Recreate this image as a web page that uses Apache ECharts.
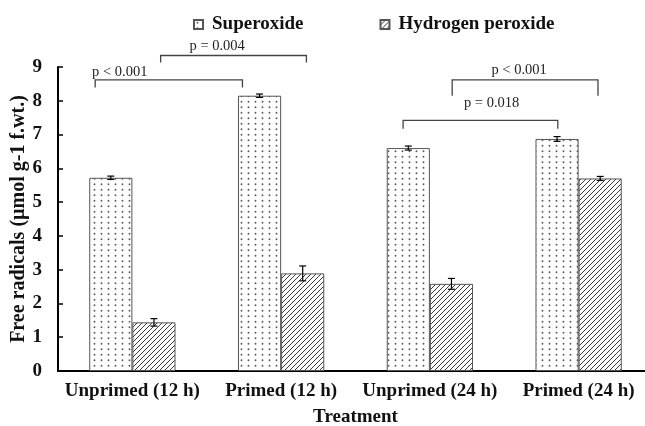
<!DOCTYPE html>
<html>
<head>
<meta charset="utf-8">
<script src="https://cdn.jsdelivr.net/npm/echarts@6/dist/echarts.min.js"></script>
<style>
  html, body { margin: 0; background: #fff; }
  #chart { width: 645px; height: 426px; }
</style>
</head>
<body>
<div id="chart"></div>
<script>
// data
const categories = ['Unprimed (12 h)', 'Primed (12 h)', 'Unprimed (24 h)', 'Primed (24 h)']
const superoxide = [5.72, 8.15, 6.60, 6.87]
const superoxideErr = [0.05, 0.05, 0.06, 0.07]
const peroxide = [1.44, 2.89, 2.58, 5.70]
const peroxideErr = [0.11, 0.22, 0.16, 0.06]
const yTicks = [0, 1, 2, 3, 4, 5, 6, 7, 8, 9]
const pLabels = ['p < 0.001', 'p = 0.004', 'p = 0.018', 'p < 0.001']

// bracket layout (category units for x, axis units for y)
const bracketFrom = [-0.25, 0.19, 1.82, 2.15]
const bracketTo = [0.74, 1.17, 2.86, 3.13]
const bracketLevel = [8.62, 9.34, 7.42, 8.62]
const bracketFoot = [8.39, 9.13, 7.17, 8.15]
const labelX = [-0.085, 0.57, 2.415, 2.60]
const labelY = [8.84, 9.61, 7.94, 8.90]

const serif = '"Liberation Serif", "DejaVu Serif", serif'

// fill patterns
const dotPattern = (() => {
  const c = document.createElement('canvas')
  c.width = 7; c.height = 11
  const g = c.getContext('2d')
  g.fillStyle = '#fff'; g.fillRect(0, 0, 7, 11)
  g.fillStyle = '#5a5a5a'
  g.beginPath(); g.arc(3.5, 2.75, 0.95, 0, Math.PI * 2); g.fill()
  g.beginPath(); g.arc(3.5, 8.25, 0.95, 0, Math.PI * 2); g.fill()
  return c
})()
const hatchPattern = (() => {
  const c = document.createElement('canvas')
  c.width = 5; c.height = 5
  const g = c.getContext('2d')
  g.fillStyle = '#fff'; g.fillRect(0, 0, 5, 5)
  g.strokeStyle = '#3a3a3a'; g.lineWidth = 1
  g.beginPath()
  g.moveTo(0, 5); g.lineTo(5, 0)
  g.moveTo(-1, 1); g.lineTo(1, -1)
  g.moveTo(4, 6); g.lineTo(6, 4)
  g.stroke()
  return c
})()

const errorBars = (offset) => (params, api) => {
  const i = api.value(0), v = api.value(1), e = api.value(2)
  const band = api.size([1, 0])[0]
  const x = api.coord([i, v])[0] + offset * band
  const hi = api.coord([i, v + e])[1]
  const lo = api.coord([i, v - e])[1]
  const w = 3.5
  const st = { stroke: '#000', lineWidth: 1.2 }
  return {
    type: 'group',
    children: [
      { type: 'line', shape: { x1: x, y1: hi, x2: x, y2: lo }, style: st },
      { type: 'line', shape: { x1: x - w, y1: hi, x2: x + w, y2: hi }, style: st },
      { type: 'line', shape: { x1: x - w, y1: lo, x2: x + w, y2: lo }, style: st }
    ]
  }
}

const brackets = (params, api) => {
  const k = params.dataIndex
  const band = api.size([1, 0])[0]
  const x0c = api.coord([0, 0])[0]
  const px = (u) => x0c + u * band
  const py = (v) => api.coord([0, v])[1]
  const xa = px(bracketFrom[k]), xb = px(bracketTo[k])
  const yl = py(bracketLevel[k]), yf = py(bracketFoot[k])
  return {
    type: 'group',
    children: [
      { type: 'polyline', shape: { points: [[xa, yf], [xa, yl], [xb, yl], [xb, yf]] },
        style: { stroke: '#444', lineWidth: 1.3, fill: null } },
      { type: 'text', x: px(labelX[k]), y: py(labelY[k]),
        style: { text: pLabels[k], fill: '#222', fontSize: 14.5, fontFamily: serif,
                 align: 'center', verticalAlign: 'middle' } }
    ]
  }
}

const chart = echarts.init(document.getElementById('chart'))
chart.setOption({
  animation: false,
  legend: {
    data: ['Superoxide', 'Hydrogen peroxide'],
    top: 10,
    left: 188,
    icon: 'rect',
    itemWidth: 9,
    itemHeight: 9,
    itemGap: 76,
    textStyle: { fontFamily: serif, fontWeight: 'bold', fontSize: 19, color: '#111', padding: [0, 0, 0, 4] }
  },
  grid: { left: 58, top: 67, width: 595, bottom: 55, containLabel: false, outerBoundsMode: 'none' },
  xAxis: {
    type: 'category',
    data: categories,
    axisLine: { lineStyle: { color: '#000', width: 2 } },
    axisTick: { inside: true, length: 4, lineStyle: { color: '#000', width: 1.5 } },
    axisLabel: { interval: 0, margin: 11, fontFamily: serif, fontWeight: 'bold', fontSize: 19, color: '#111' },
    name: 'Treatment',
    nameLocation: 'middle',
    nameGap: 37,
    nameMoveOverlap: false,
    nameTextStyle: { fontFamily: serif, fontWeight: 'bold', fontSize: 19, color: '#111' }
  },
  yAxis: {
    type: 'value',
    min: yTicks[0],
    max: yTicks[yTicks.length - 1],
    interval: 1,
    axisLine: { show: true, lineStyle: { color: '#000', width: 2 } },
    axisTick: { show: true, inside: true, length: 5, lineStyle: { color: '#000', width: 1.5 } },
    splitLine: { show: false },
    axisLabel: { margin: 16, fontFamily: serif, fontWeight: 'bold', fontSize: 19, color: '#111' },
    name: 'Free radicals (µmol g-1 f.wt.)',
    nameLocation: 'middle',
    nameGap: 29,
    nameMoveOverlap: false,
    nameTextStyle: { fontFamily: serif, fontWeight: 'bold', fontSize: 20, color: '#111' }
  },
  series: [
    {
      name: 'Superoxide',
      type: 'bar',
      data: superoxide,
      barGap: 0,
      barCategoryGap: '42%',
      itemStyle: { color: { image: dotPattern, repeat: 'repeat' }, borderColor: '#555', borderWidth: 1 }
    },
    {
      name: 'Hydrogen peroxide',
      type: 'bar',
      data: peroxide,
      itemStyle: { color: { image: hatchPattern, repeat: 'repeat' }, borderColor: '#555', borderWidth: 1 }
    },
    {
      type: 'custom',
      renderItem: errorBars(-0.145),
      data: superoxide.map((v, i) => [i, v, superoxideErr[i]]),
      z: 5
    },
    {
      type: 'custom',
      renderItem: errorBars(0.145),
      data: peroxide.map((v, i) => [i, v, peroxideErr[i]]),
      z: 5
    },
    {
      type: 'custom',
      renderItem: brackets,
      clip: false,
      data: pLabels.map((t, i) => [0, bracketLevel[i]]),
      z: 6
    }
  ]
})
</script>
</body>
</html>
